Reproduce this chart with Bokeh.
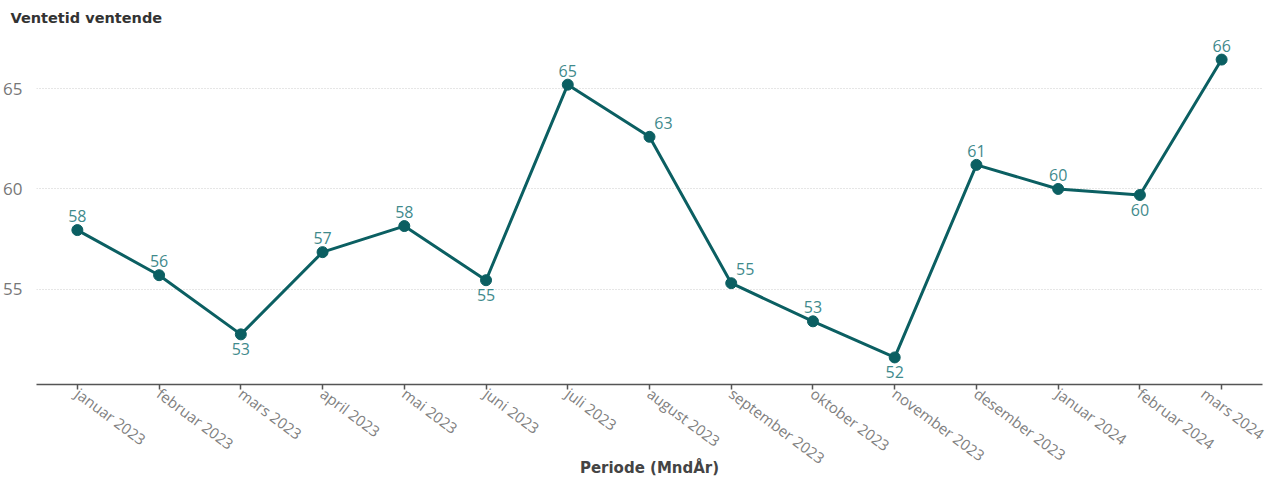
from bokeh.plotting import figure
from bokeh.models import ColumnDataSource, Range1d, FactorRange, SingleIntervalTicker, Title
from bokeh.core.properties import value
from bokeh.embed import file_html
from bokeh.resources import INLINE

months = ["januar 2023", "februar 2023", "mars 2023", "april 2023", "mai 2023", "juni 2023",
          "juli 2023", "august 2023", "september 2023", "oktober 2023", "november 2023",
          "desember 2023", "januar 2024", "februar 2024", "mars 2024"]
waiting = [57.95, 55.7, 52.75, 56.85, 58.15, 55.45, 65.2, 62.6, 55.3, 53.4, 51.6,
           61.2, 60.0, 59.7, 66.45]
labels = [str(int(round(v))) for v in waiting]

# label placement style: (x offset, y offset, baseline)
place = ["up", "up", "down", "up", "up", "down", "up", "upright", "upright", "up", "down",
         "up", "up", "down", "up"]
dx = [14 if s == "upright" else 0 for s in place]
dy = [9 if s == "down" else -8 for s in place]
base = ["top" if s == "down" else "bottom" for s in place]

FONT = "Open Sans"
BOLD = "DejaVu Sans"
LINE = "#0b5f62"
LAB = "#3f8a8c"

src = ColumnDataSource(dict(x=months, y=waiting, lab=labels, dx=dx, dy=dy, base=base))

p = figure(x_range=FactorRange(*months, range_padding=0), y_range=Range1d(50.25, 68.05),
           width=1268, height=484, output_backend="svg", toolbar_location=None,
           min_border_left=31, min_border_right=6,
           min_border_top=27, min_border_bottom=100)
p.outline_line_color = None
p.background_fill_color = "white"

p.add_layout(Title(text="Ventetid ventende", align="left", text_font=BOLD,
                   text_font_size="14.5px", text_font_style="bold", text_color="#333333",
                   offset=-26, standoff=4), "above")

p.line("x", "y", source=src, line_color=LINE, line_width=3)
p.scatter("x", "y", source=src, size=11, fill_color=LINE, line_color=LINE)
p.text("x", "y", text="lab", source=src, x_offset="dx", y_offset="dy",
       text_align="center", text_baseline="base", text_font=value(FONT),
       text_font_size="16px", text_color=LAB)

p.yaxis.ticker = SingleIntervalTicker(interval=5)
p.yaxis.axis_line_color = None
p.yaxis.major_tick_line_color = None
p.yaxis.minor_tick_line_color = None
p.yaxis.major_label_text_font = FONT
p.yaxis.major_label_text_font_size = "17px"
p.yaxis.major_label_text_color = "#777777"
p.yaxis.major_label_standoff = 8

p.xaxis.axis_line_color = "#555555"
p.xaxis.axis_line_width = 1.5
p.xaxis.major_tick_line_color = "#555555"
p.xaxis.major_tick_line_width = 1.5
p.xaxis.major_tick_in = 0
p.xaxis.major_tick_out = 5
p.xaxis.major_label_orientation = -0.64
p.xaxis.major_label_text_font = FONT
p.xaxis.major_label_text_font_size = "15px"
p.xaxis.major_label_text_color = "#808080"
p.xaxis.major_label_standoff = 2
p.xaxis.axis_label = "Periode (MndÅr)"
p.xaxis.axis_label_text_font = BOLD
p.xaxis.axis_label_text_font_size = "15px"
p.xaxis.axis_label_text_font_style = "bold"
p.xaxis.axis_label_text_color = "#444444"
p.xaxis.axis_label_standoff = -20

p.xgrid.grid_line_color = None
p.ygrid.grid_line_color = "#cccccc"
p.ygrid.grid_line_dash = "1 2"
p.ygrid.grid_line_width = 1

open("out.html", "w").write(file_html(p, INLINE))
